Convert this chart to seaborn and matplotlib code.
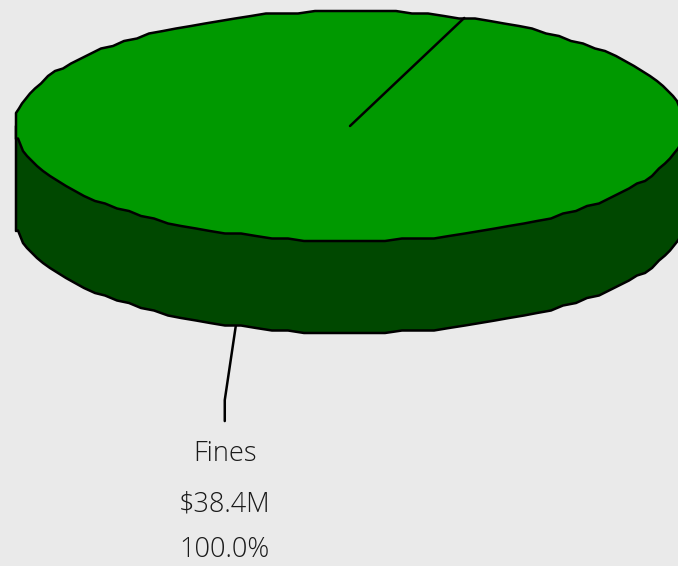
import numpy as np
import pandas as pd
import matplotlib
matplotlib.use("Agg")
import matplotlib.pyplot as plt
import seaborn as sns

categories = ["Fines"]
values_musd = [38.4]
value_labels = ["$38.4M"]
share_labels = ["100.0%"]

sns.set_theme(style="white")
plt.rcParams['font.family'] = ['Open Sans', 'DejaVu Sans']

BG, TOP, SIDE = "#EAEAEA", "#009900", "#004800"
df = pd.DataFrame({"category": categories, "value": values_musd})
df["share"] = df["value"] / df["value"].sum()

CX, CY, RX, RY, DEPTH = 350, 126, 334, 115, 92
START = 70.0
LW = 1.8
STEP, END_GAP, SNAP = 2.8, 6.5, 2.5

fig = plt.figure(figsize=(6.78, 5.66), dpi=100, facecolor=BG)
ax = fig.add_axes([0, 0, 1, 1])
ax.set_xlim(0, 678)
ax.set_ylim(566, 0)
ax.axis("off")


def rim(deg, dy=0.0):
    """Points on the rim, snapped to a coarse grid like the original outline."""
    t = np.radians(deg)
    x = np.round(CX + RX * np.cos(t))
    y = CY - RY * np.sin(t)
    y = 11 + np.round((y - 11) / SNAP) * SNAP
    return x, y + dy


upper = np.arange(END_GAP, 180 - END_GAP + 0.01, STEP)
lower = np.arange(180 + END_GAP, 360 - END_GAP + 0.01, STEP)

# side wall: drawn first, the top face covers its upper edge
xb, yb = rim(lower, DEPTH)
ax.fill(np.concatenate([[CX - RX, CX - RX], xb, [CX + RX, CX + RX]]),
        np.concatenate([[CY, CY + DEPTH + 13], yb, [CY + DEPTH - 13, CY]]),
        facecolor=SIDE, edgecolor="black", lw=LW, joinstyle="round", zorder=2)

# top face
xu, yu = rim(upper)
xl, yl = rim(lower)
ax.fill(np.concatenate([xu, [CX - RX, CX - RX], xl, [CX + RX, CX + RX]]),
        np.concatenate([yu, [CY - 13, CY + 13], yl, [CY + 13, CY - 13]]),
        facecolor=TOP, edgecolor="black", lw=LW, joinstyle="round", zorder=3)

# slice boundary, from the single slice's share
boundaries = START + 360 * np.cumsum(df["share"].to_numpy())
for b in boundaries:
    t = np.radians(b)
    ax.plot([CX, CX + RX * np.cos(t)], [CY, CY - RY * np.sin(t)],
            color="black", lw=LW, solid_capstyle="round", zorder=4)

# leader and label at the slice's mid-angle
for i, row in df.iterrows():
    mid = np.radians(START + 360 * row["share"] / 2)
    ax_x = CX + RX * np.cos(mid)
    ax_y = CY - RY * np.sin(mid) + DEPTH
    tx = ax_x - 11
    ax.plot([ax_x, tx, tx], [ax_y, ax_y + 74, ax_y + 95],
            color="black", lw=LW, zorder=1)
    for text, off in zip([row["category"], value_labels[i], share_labels[i]], [128, 178, 224]):
        ax.text(tx, ax_y + off, text, ha="center", va="center", fontsize=19.5,
                fontweight="light", color="#1a1a1a", zorder=5)

fig.savefig("out.png", dpi=100, facecolor=BG)
